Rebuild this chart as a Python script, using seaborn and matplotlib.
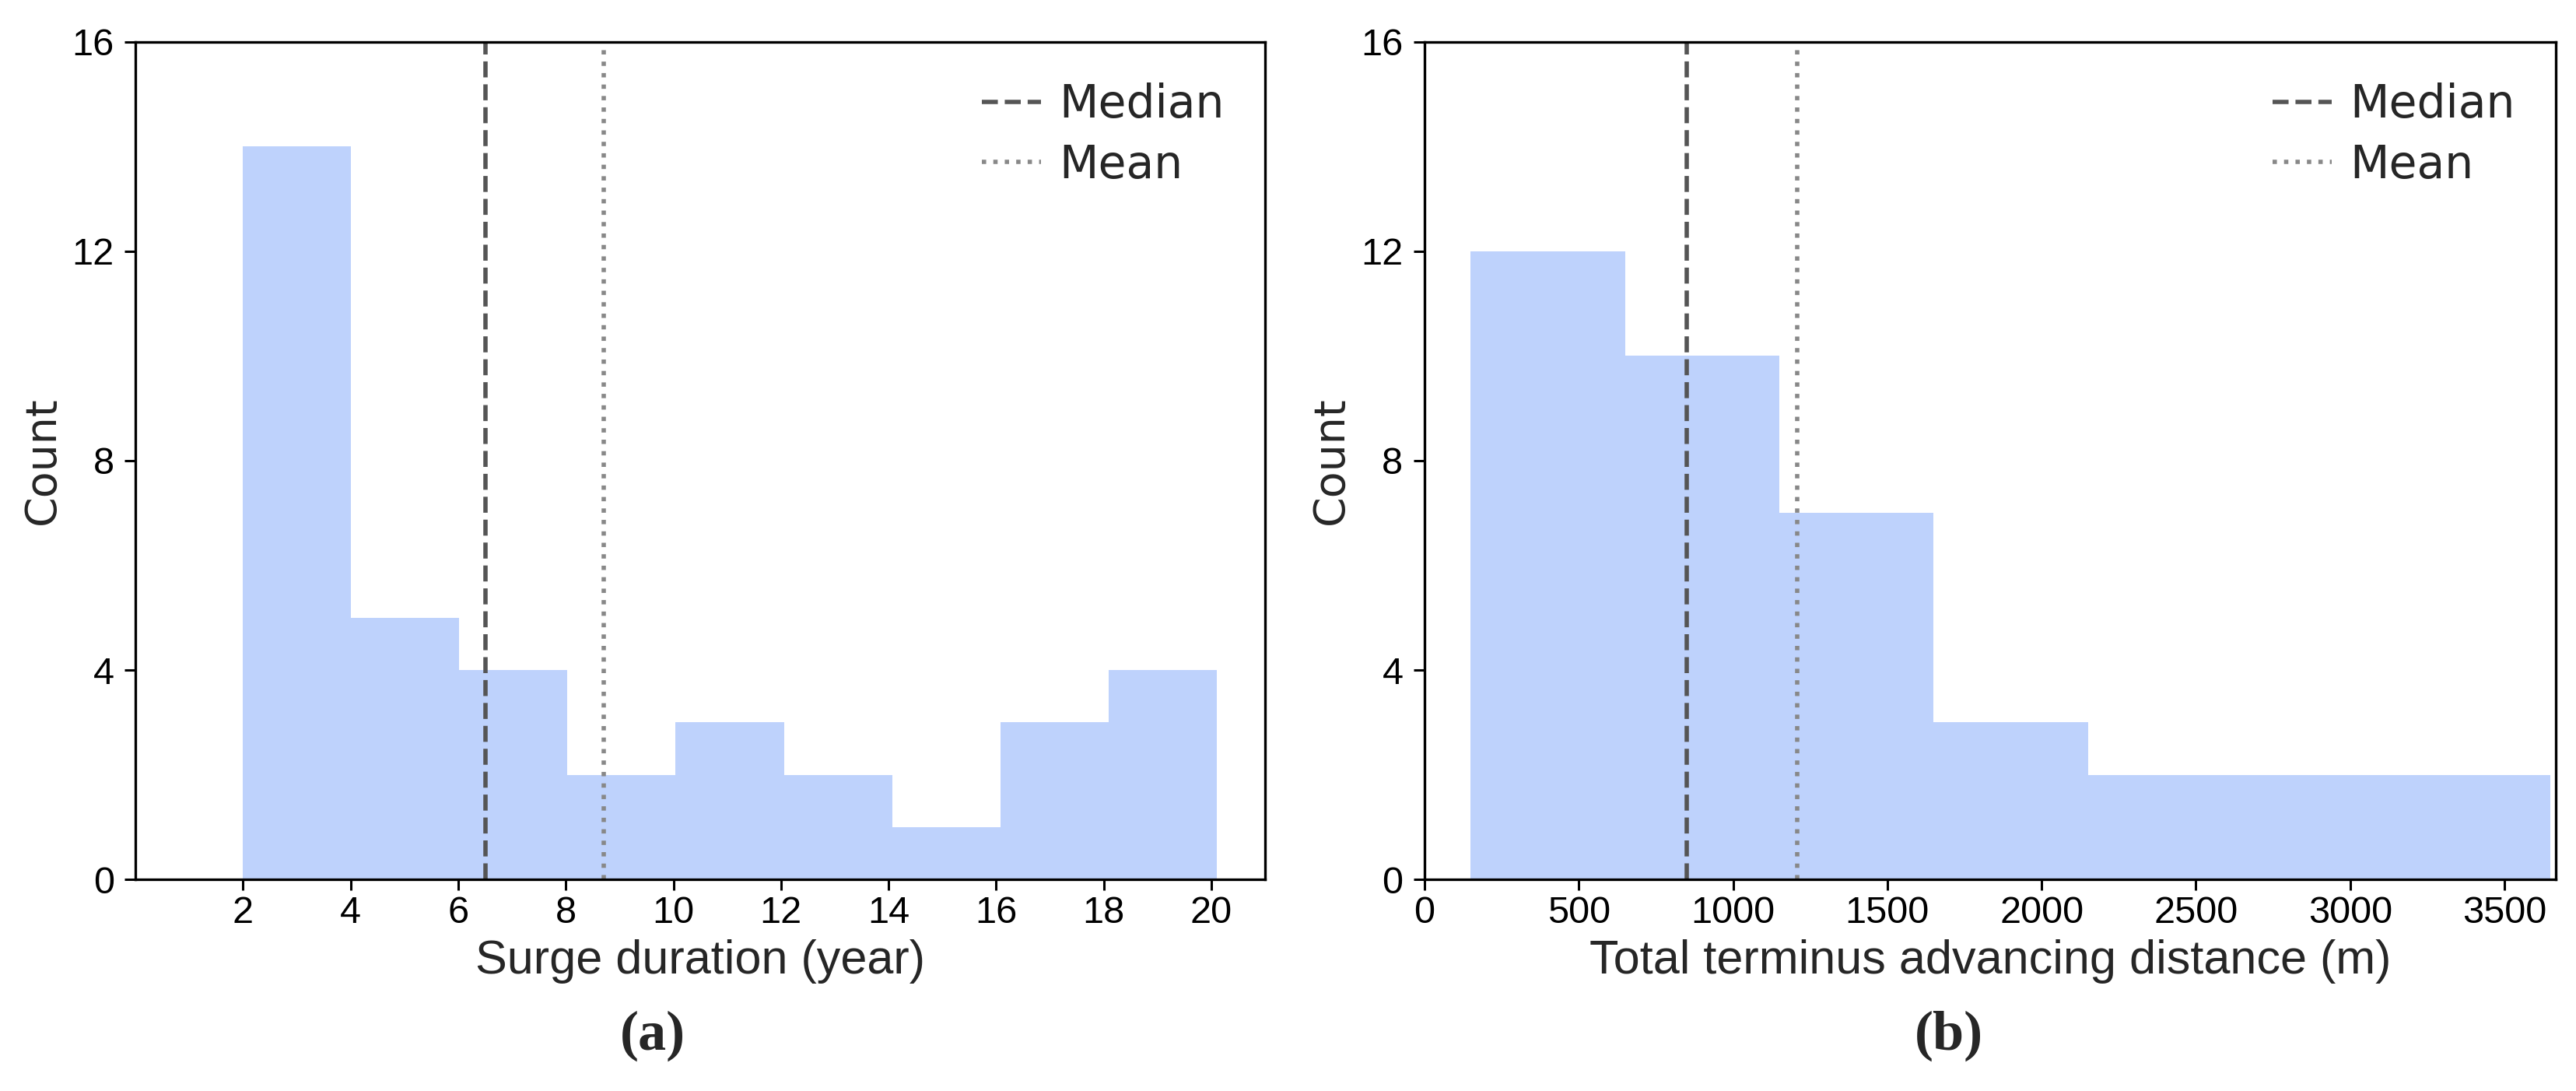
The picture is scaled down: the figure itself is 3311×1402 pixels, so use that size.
import pandas as pd
import matplotlib
matplotlib.use('Agg')
import matplotlib.pyplot as plt
import seaborn as sns

# ---------------------------
# 数据
# ---------------------------
duration_edges = [2.0, 4.01, 6.02, 8.03, 10.04, 12.06, 14.07, 16.08, 18.09, 20.1]
duration_counts = [14, 5, 4, 2, 3, 2, 1, 3, 4]
duration_median = 6.5
duration_mean = 8.7
duration_ticks = [2, 4, 6, 8, 10, 12, 14, 16, 18, 20]

distance_edges = [150, 650, 1150, 1650, 2150, 2650, 3150, 3650]
distance_counts = [12, 10, 7, 3, 2, 2, 2]
distance_median = 850
distance_mean = 1208
distance_ticks = [0, 500, 1000, 1500, 2000, 2500, 3000, 3500]

count_ticks = [0, 4, 8, 12, 16]

bar_color = '#bed2fc'

sns.set_style('ticks')
plt.rcParams['font.family'] = ['Liberation Sans', 'DejaVu Sans']
plt.rcParams['axes.linewidth'] = 1.2
plt.rcParams['xtick.major.size'] = 4.9
plt.rcParams['ytick.major.size'] = 4.9
plt.rcParams['xtick.major.width'] = 1.1
plt.rcParams['ytick.major.width'] = 1.1
plt.rcParams['xtick.major.pad'] = 2.5
plt.rcParams['ytick.major.pad'] = 5
plt.rcParams['xtick.color'] = 'black'
plt.rcParams['ytick.color'] = 'black'
plt.rcParams['axes.edgecolor'] = 'black'

fig = plt.figure(figsize=(16.555, 7.01), dpi=200)
ax1 = fig.add_axes([0.0526, 0.194, 0.4385, 0.7675])
ax2 = fig.add_axes([0.5530, 0.194, 0.4391, 0.7675])


def draw_panel(ax, edges, counts, med, mean, ticks, xlim, xlabel, tag, tag_x):
    edges = [float(e) for e in edges]
    df = pd.DataFrame({
        'value': [(a + b) / 2 for a, b in zip(edges[:-1], edges[1:])],
        'n': counts,
    })
    sns.histplot(data=df, x='value', weights='n', bins=edges, ax=ax,
                 color=bar_color, alpha=1, linewidth=0, edgecolor='none')
    ax.axvline(med, color='#555555', linestyle='--', linewidth=2.0, label='Median')
    ax.axvline(mean, color='#888888', linestyle=':', linewidth=2.0, label='Mean')
    ax.set_xlim(*xlim)
    ax.set_ylim(0, 16)
    ax.set_xticks(ticks)
    ax.set_yticks(count_ticks)
    ax.tick_params(labelsize=17.5)
    ax.set_xlabel(xlabel, fontsize=22)
    ax.set_ylabel('Count', fontsize=20, family=['DejaVu Sans'])
    ax.legend(loc='upper right', frameon=False, prop={'family': 'DejaVu Sans', 'size': 21},
              handlelength=1.3, handletextpad=0.4, labelspacing=0.35)
    fig.text(tag_x, 0.0506, tag, ha='center', va='center', fontsize=26,
             fontweight='bold', family=['Liberation Serif'])


draw_panel(ax1, duration_edges, duration_counts, duration_median, duration_mean,
           duration_ticks, (0, 21), 'Surge duration (year)', '(a)', 0.2535)
draw_panel(ax2, distance_edges, distance_counts, distance_median, distance_mean,
           distance_ticks, (0, 3666), 'Total terminus advancing distance (m)', '(b)', 0.7565)

fig.savefig('out.png', dpi=200)
